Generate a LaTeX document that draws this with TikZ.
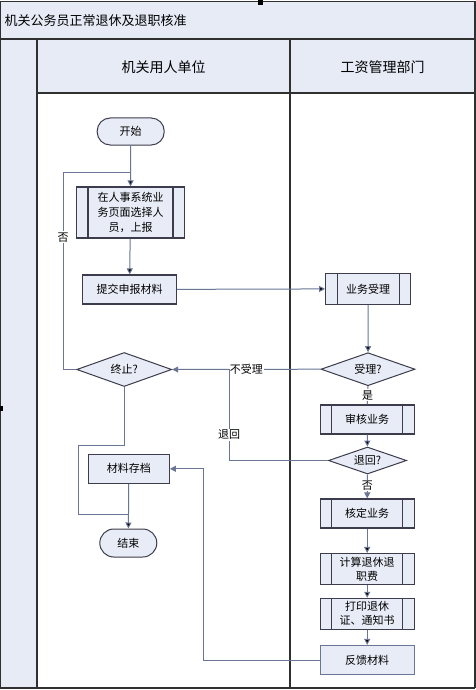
\documentclass[tikz,border=0pt]{standalone}
\usepackage{fontspec}
\setmainfont{Noto Sans CJK SC}
\usetikzlibrary{arrows.meta,shapes.geometric,positioning}
\definecolor{boxfill}{HTML}{E8ECF6}
\definecolor{boxline}{HTML}{3C3C4C}
\definecolor{flowline}{HTML}{6B7694}
\definecolor{laneblue}{HTML}{E6EBF6}
\definecolor{frameline}{HTML}{303030}

\begin{document}
\begin{tikzpicture}[x=1pt, y=-1pt, >={Triangle[length=6pt,width=6pt]}, semithick]
        \tikzset{
           terminal/.style={
                        rectangle,
                        rounded corners=13pt,
                        draw=boxline,
                        line width=1pt,
                        fill=boxfill,
                        text=black,
                        minimum height=27pt,
                        font=\fontsize{11}{13}\selectfont
                       },
           process/.style={
                        rectangle,
                        draw=boxline,
                        line width=1.2pt,
                        fill=boxfill,
                        text=black,
                        minimum height=29pt,
                        font=\fontsize{11}{13}\selectfont
                       },
           subproc/.style={
                        process,
                        minimum width=94pt,
                        path picture={
                          \draw[boxline, line width=1.2pt]
                            ([xshift=11.5pt]path picture bounding box.north west) -- ([xshift=11.5pt]path picture bounding box.south west)
                            ([xshift=-11.5pt]path picture bounding box.north east) -- ([xshift=-11.5pt]path picture bounding box.south east);
                        }
                       },
           decision/.style={
                        diamond,
                        aspect=2.8,
                        inner sep=0pt,
                        draw=boxline,
                        line width=1pt,
                        fill=boxfill,
                        text=black,
                        font=\fontsize{11}{13}\selectfont
                       },
           flow/.style={
                        draw=flowline,
                        line width=1pt
                       },
           lbl/.style={
                        fill=white,
                        inner sep=1pt,
                        text=black,
                        font=\fontsize{11}{13}\selectfont
                       },
           frame/.style={
                        draw=frameline,
                        line width=1.3pt
                       },
                 };
    %--------------------
        \useasboundingbox (0,0) rectangle (476,690);
        \fill[white] (0,0) rectangle (476,690);
        \fill[laneblue] (0,2) rectangle (475,93);
        \fill[laneblue] (0,93) rectangle (37,688);

        \draw[frame] (0,1.5) -- (475,1.5);
        \draw[frame] (0,39) -- (475,39);
        \draw[frame] (37,93) -- (475,93);
        \draw[frame] (37,39) -- (37,688);
        \draw[frame] (290,39) -- (290,688);
        \draw[frame] (475,1.5) -- (475,688);
        \draw[frame] (0,1.5) -- (0,688);
        \draw[frame] (0,688) -- (475,688);
        \fill[black] (258,0) rectangle (263,5);
        \fill[black] (0,406) rectangle (3,411);

        \node[anchor=west, font=\fontsize{13}{15}\selectfont] (title) at (1,21) {机关公务员正常退休及退职核准};
        \node[font=\fontsize{14}{16}\selectfont] (laneUnit) at (163.5,67) {机关用人单位};
        \node[font=\fontsize{14}{16}\selectfont] (lanePay)  at (382.5,67) {工资管理部门};
    %--------------------
        \node[terminal, minimum width=67pt] (start)       at (130.7,131.5) {开始};
        \node[subproc, minimum width=108pt, minimum height=51pt, align=center, font=\fontsize{11}{15}\selectfont]
                                          (selectStaff) at (130.5,212.5) {在人事系统业\\务页面选择人\\员，上报};
        \node[process, minimum width=94pt] (submitDocs)  at (129.5,289.5) {提交申报材料};
        \node[decision, minimum width=95pt, minimum height=34pt] (stopQ) at (124.2,369.5) {终止?};
        \node[process, minimum width=81pt] (archive)     at (128.8,468.8) {材料存档};
        \node[terminal, minimum width=57pt, rounded corners=14pt, minimum height=28pt] (finish) at (128.3,543) {结束};

        \node[subproc, minimum width=85pt, minimum height=31pt] (acceptBiz) at (368.2,288.8) {业务受理};
        \node[decision, minimum width=94pt, minimum height=33pt] (acceptQ)  at (368,369.2) {受理?};
        \node[subproc]                    (reviewBiz)   at (367.2,419.4) {审核业务};
        \node[decision, minimum width=78pt, minimum height=27pt] (returnQ)  at (367.5,460.5) {退回?};
        \node[subproc]                    (approveBiz)  at (367.2,513.5) {核定业务};
        \node[subproc, align=center, font=\fontsize{11}{14}\selectfont] (calcFee) at (367.2,569) {计算退休退\\职费};
        \node[subproc, align=center, font=\fontsize{11}{14}\selectfont] (printCert) at (367.2,613.8) {打印退休\\证、通知书};
        \node[process, draw=flowline, minimum width=94pt] (feedback) at (367.2,660) {反馈材料};
    %--------------------
        \coordinate (noTurn)   at (63,172);
        \coordinate (endTurn)  at (78,445);
        \coordinate (endJoin)  at (128.3,514);
        \coordinate (rejoin)   at (229,369.2);
        \coordinate (fbTurn)   at (203.3,660);

        \path[flow, ->] (start)       edge (selectStaff)
                        (selectStaff) edge (submitDocs)
                        (submitDocs)  edge (acceptBiz)
                        (acceptBiz)   edge (acceptQ)
                        (reviewBiz)   edge (returnQ)
                        (approveBiz)  edge (calcFee)
                        (calcFee)     edge (printCert)
                        (printCert)   edge (feedback)
                        (archive)     edge (finish);

        \draw[flow, ->] (acceptQ.west) -- node[lbl] {不受理} (stopQ.east);
        \draw[flow] (acceptQ.south) -- node[lbl] {是} (reviewBiz.north);
        \draw[flow, ->] (returnQ.south) -- node[lbl, pos=0.45] {否} (approveBiz.north);
        \draw[flow] (returnQ.west) -| node[lbl, pos=0.64] {退回} (rejoin);
        \draw[flow] (stopQ.west) -| node[lbl, pos=0.835] {否} (noTurn) -- (noTurn -| start.south);
        \draw[flow] (stopQ.south) |- (endTurn) |- (endJoin);
        \draw[flow, ->] (feedback.west) -- (fbTurn) |- (archive.east);
    \end{tikzpicture}
\end{document}
